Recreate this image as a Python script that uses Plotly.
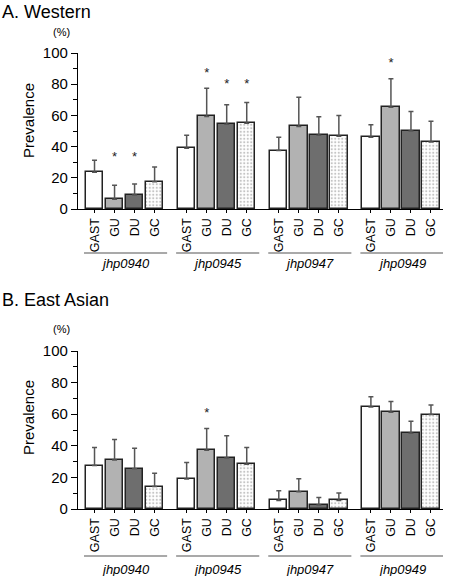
import plotly.graph_objects as go

genes = ["jhp0940", "jhp0945", "jhp0947", "jhp0949"]
diseases = ["GAST", "GU", "DU", "GC"]

# Panel A: Western (values per disease, across genes)
west_vals = {
    "GAST": [23.5, 38.9, 37.5, 46.0],
    "GU":   [6.3, 59.3, 52.9, 65.3],
    "DU":   [8.9, 54.4, 47.3, 50.0],
    "GC":   [17.5, 55.0, 46.6, 43.0],
}
west_err = {
    "GAST": [7.7, 8.3, 8.5, 8.0],
    "GU":   [8.9, 18.1, 18.8, 18.2],
    "DU":   [7.1, 12.5, 11.9, 12.5],
    "GC":   [9.5, 13.2, 13.3, 13.3],
}
# significance stars: (gene, disease, y)
west_stars = [("jhp0940", "GU", 33), ("jhp0940", "DU", 33),
              ("jhp0945", "GU", 86.5), ("jhp0945", "DU", 79.5),
              ("jhp0945", "GC", 79.5), ("jhp0949", "GU", 93)]

# Panel B: East Asian
east_vals = {
    "GAST": [27.5, 19.0, 5.4, 64.6],
    "GU":   [31.0, 37.2, 10.9, 61.3],
    "DU":   [25.5, 32.2, 2.5, 48.0],
    "GC":   [14.2, 28.4, 5.4, 59.8],
}
east_err = {
    "GAST": [11.5, 10.4, 6.2, 6.4],
    "GU":   [13.0, 13.8, 8.2, 6.7],
    "DU":   [13.0, 14.1, 4.8, 7.6],
    "GC":   [8.5, 10.6, 4.7, 6.1],
}
east_stars = [("jhp0945", "GU", 60)]

FONT = "Liberation Sans, Arial, Helvetica, sans-serif"
GROUP_PITCH = 4.6
fills = {"GAST": "white", "GU": "#b2b2b2", "DU": "#6e6e6e", "GC": "white"}


def xpos(g, d):
    return genes.index(g) * GROUP_PITCH + diseases.index(d)


fig = go.Figure()
panels = [("x", "y", west_vals, west_err, west_stars),
          ("x2", "y2", east_vals, east_err, east_stars)]
for xa, ya, vals, errs, stars in panels:
    for d in diseases:
        marker = dict(color=fills[d], line=dict(color="#222", width=1.5))
        if d == "GC":
            marker["pattern"] = dict(shape=".", fgcolor="#8a8a8a", bgcolor="white",
                                     size=3.5, solidity=0.3)
        fig.add_trace(go.Bar(
            x=[xpos(g, d) for g in genes], y=vals[d], width=0.87,
            marker=marker, xaxis=xa, yaxis=ya, showlegend=False,
            error_y=dict(type="data", array=errs[d], arrayminus=[0] * 4,
                         symmetric=False, color="#555", thickness=1.5, width=2.5),
        ))
    fig.add_trace(go.Scatter(
        x=[xpos(g, d) for g, d, _ in stars], y=[s[2] for s in stars],
        mode="text", text=["*"] * len(stars), textposition="middle center",
        textfont=dict(size=13, color="#222", family=FONT),
        xaxis=xa, yaxis=ya, showlegend=False, hoverinfo="skip",
    ))

tickvals = [xpos(g, d) for g in genes for d in diseases]
ticktext = [d for g in genes for d in diseases]

W, H = 450, 576
L, R, T, B = 78, 7, 53, 67
PW, PH = W - L - R, H - T - B


def py(pix):
    return 1 - (pix - T) / PH


def px(pix):
    return (pix - L) / PW


xaxis_common = dict(range=[-0.825, 17.4], showline=True, linecolor="black", linewidth=1.2,
                    ticks="outside", ticklen=3, tickcolor="black", tickwidth=1,
                    tickvals=tickvals, ticktext=ticktext, tickangle=-90,
                    tickfont=dict(size=12.5, color="black", family=FONT),
                    showgrid=False, zeroline=False, fixedrange=True, automargin=False)
yaxis_common = dict(range=[0, 100], showline=True, linecolor="black", linewidth=1.2,
                    ticks="outside", ticklen=6, tickcolor="black", tickwidth=1,
                    tickvals=[0, 20, 40, 60, 80, 100],
                    tickfont=dict(size=15, color="black", family=FONT),
                    minor=dict(tickvals=[10, 30, 50, 70, 90], ticks="outside", ticklen=4,
                               tickcolor="black"),
                    showgrid=False, zeroline=False, fixedrange=True, automargin=False)

fig.update_layout(
    width=W, height=H, margin=dict(l=L, r=R, t=T, b=B, autoexpand=False),
    plot_bgcolor="white", paper_bgcolor="white", barmode="overlay", bargap=0,
    font=dict(family=FONT, color="black"),
    xaxis=dict(**xaxis_common, domain=[0, 1], anchor="y"),
    yaxis=dict(**yaxis_common, domain=[py(209), 1], anchor="x"),
    xaxis2=dict(**xaxis_common, domain=[0, 1], anchor="y2"),
    yaxis2=dict(**yaxis_common, domain=[0, py(351)], anchor="x2"),
)

shapes = []
annotations = []
for line_y, lab_y in [(253, 263), (556, 569)]:
    for g in genes:
        x0 = xpos(g, "GAST") - 0.525
        x1 = xpos(g, "GC") + 0.625
        shapes.append(dict(type="line", xref="x", yref="paper", x0=x0, x1=x1,
                           y0=py(line_y), y1=py(line_y),
                           line=dict(color="#8c8c8c", width=1.6)))
        annotations.append(dict(text="<i>%s</i>" % g, xref="x", yref="paper",
                                x=(x0 + x1) / 2, y=py(lab_y), showarrow=False,
                                xanchor="center", yanchor="middle",
                                font=dict(size=13, color="black", family=FONT)))

for title, ty, pcy, prev_y in [("A. Western", 12, 32, 121), ("B. East Asian", 300, 329, 418)]:
    annotations.append(dict(text=title, xref="paper", yref="paper", x=px(0), y=py(ty),
                            xanchor="left", yanchor="middle", showarrow=False,
                            font=dict(size=18, color="black", family=FONT)))
    annotations.append(dict(text="(%)", xref="paper", yref="paper", x=px(61), y=py(pcy),
                            xanchor="center", yanchor="middle", showarrow=False,
                            font=dict(size=11, color="black", family=FONT)))
    annotations.append(dict(text="Prevalence", xref="paper", yref="paper", x=px(28),
                            y=py(prev_y), xanchor="center", yanchor="middle",
                            showarrow=False, textangle=-90,
                            font=dict(size=15, color="black", family=FONT)))

fig.update_layout(shapes=shapes, annotations=annotations)
fig.write_html("out.html", config={"displayModeBar": False},
               post_script="document.body.style.margin='0';document.body.style.overflow='hidden';")
